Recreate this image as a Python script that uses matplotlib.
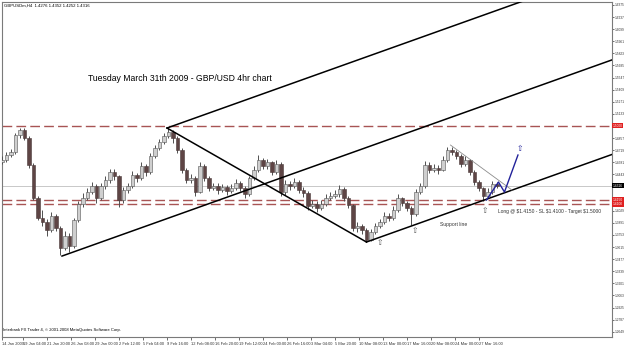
import matplotlib
matplotlib.use('Agg')
import matplotlib.pyplot as plt
import numpy as np

# 4h candles, one entry every 3 bars
closes = [1.4607, 1.4664, 1.4698, 1.4892, 1.4949, 1.4858, 1.4550, 1.4174, 1.3946, 1.3900,
          1.3809, 1.3969, 1.3832, 1.3604, 1.3740, 1.3626, 1.3923, 1.4105, 1.4174, 1.4242,
          1.4311, 1.4174, 1.4311, 1.4379, 1.4470, 1.4425, 1.4151, 1.4265, 1.4311, 1.4436,
          1.4402, 1.4539, 1.4470, 1.4653, 1.4744, 1.4813, 1.4881, 1.4927, 1.4858, 1.4721,
          1.4493, 1.4379, 1.4402, 1.4242, 1.4539, 1.4402, 1.4288, 1.4311, 1.4265, 1.4299,
          1.4254, 1.4288, 1.4345, 1.4288, 1.4219, 1.4402, 1.4493, 1.4607, 1.4539, 1.4584,
          1.4470, 1.4562, 1.4242, 1.4334, 1.4311, 1.4356, 1.4265, 1.4231, 1.4083, 1.4105,
          1.4060, 1.4105, 1.4174, 1.4197, 1.4219, 1.4277, 1.4174, 1.4094, 1.3832, 1.3855,
          1.3809, 1.3695, 1.3786, 1.3855, 1.3900, 1.3969, 1.3946, 1.4037, 1.4174, 1.4117,
          1.4060, 1.3991, 1.4242, 1.4311, 1.4550, 1.4493, 1.4516, 1.4493, 1.4607, 1.4721,
          1.4698, 1.4653, 1.4562, 1.4607, 1.4470, 1.4356, 1.4288, 1.4197, 1.4242, 1.4334,
          1.4311]
highs = [1.4650, 1.4700, 1.4735, 1.4920, 1.4972, 1.4975, 1.4880, 1.4570, 1.4200, 1.4040,
         1.3930, 1.4010, 1.3990, 1.3850, 1.3800, 1.3770, 1.3950, 1.4140, 1.4230, 1.4290,
         1.4360, 1.4330, 1.4340, 1.4420, 1.4510, 1.4500, 1.4440, 1.4300, 1.4350, 1.4480,
         1.4460, 1.4580, 1.4560, 1.4690, 1.4780, 1.4850, 1.4920, 1.4985, 1.4950, 1.4880,
         1.4740, 1.4520, 1.4450, 1.4420, 1.4580, 1.4560, 1.4420, 1.4350, 1.4340, 1.4330,
         1.4320, 1.4330, 1.4390, 1.4370, 1.4310, 1.4430, 1.4540, 1.4660, 1.4630, 1.4620,
         1.4600, 1.4610, 1.4580, 1.4380, 1.4370, 1.4400, 1.4380, 1.4300, 1.4250, 1.4150,
         1.4140, 1.4150, 1.4220, 1.4240, 1.4270, 1.4320, 1.4300, 1.4200, 1.4110, 1.3900,
         1.3880, 1.3830, 1.3820, 1.3890, 1.3940, 1.4010, 1.4000, 1.4080, 1.4220, 1.4190,
         1.4140, 1.4080, 1.4280, 1.4350, 1.4600, 1.4580, 1.4560, 1.4550, 1.4650, 1.4756,
         1.4750, 1.4720, 1.4680, 1.4650, 1.4620, 1.4490, 1.4380, 1.4300, 1.4290, 1.4370,
         1.4360]
lows = [1.4560, 1.4585, 1.4640, 1.4680, 1.4860, 1.4830, 1.4520, 1.4150, 1.3920, 1.3860,
        1.3740, 1.3790, 1.3800, 1.3524, 1.3580, 1.3560, 1.3600, 1.3900, 1.4070, 1.4150,
        1.4220, 1.4120, 1.4150, 1.4280, 1.4350, 1.4380, 1.4071, 1.4120, 1.4230, 1.4290,
        1.4360, 1.4380, 1.4420, 1.4450, 1.4630, 1.4720, 1.4790, 1.4860, 1.4800, 1.4690,
        1.4460, 1.4340, 1.4350, 1.4200, 1.4230, 1.4370, 1.4250, 1.4260, 1.4220, 1.4240,
        1.4210, 1.4230, 1.4270, 1.4250, 1.4170, 1.4200, 1.4380, 1.4470, 1.4500, 1.4510,
        1.4440, 1.4450, 1.4200, 1.4210, 1.4270, 1.4290, 1.4230, 1.4190, 1.4040, 1.4060,
        1.4020, 1.4040, 1.4080, 1.4150, 1.4170, 1.4190, 1.4140, 1.4060, 1.3800, 1.3790,
        1.3760, 1.3672, 1.3680, 1.3760, 1.3830, 1.3880, 1.3910, 1.3920, 1.4010, 1.4080,
        1.4030, 1.3866, 1.3970, 1.4220, 1.4290, 1.4460, 1.4470, 1.4450, 1.4480, 1.4590,
        1.4660, 1.4620, 1.4530, 1.4540, 1.4440, 1.4320, 1.4250, 1.4140, 1.4170, 1.4220,
        1.4290]
first_open = 1.4580
bars_per_candle = 3

# right price scale (labels under the coloured level boxes are hidden, as in MT4)
price_ticks = [1.6375, 1.6237, 1.6099, 1.5961, 1.5823, 1.5685, 1.5547, 1.5409, 1.5271, 1.5133,
               1.4995, 1.4857, 1.4719, 1.4581, 1.4443, 1.4305, 1.4167, 1.4029, 1.3891, 1.3753,
               1.3615, 1.3477, 1.3339, 1.3201, 1.3063, 1.2925, 1.2787, 1.2649]
hidden_ticks = [1.4995, 1.4305, 1.4167]
time_labels = ['14 Jan 2009', '19 Jan 04:00', '21 Jan 20:00', '26 Jan 08:00', '29 Jan 00:00',
               '2 Feb 12:00', '5 Feb 04:00', '9 Feb 16:00', '12 Feb 08:00', '16 Feb 20:00',
               '19 Feb 12:00', '24 Feb 00:00', '26 Feb 16:00', '3 Mar 04:00', '5 Mar 20:00',
               '10 Mar 08:00', '13 Mar 00:00', '17 Mar 16:00', '20 Mar 08:00', '24 Mar 00:00',
               '27 Mar 16:00']

# horizontal levels
target = 1.5000
entry = 1.4150
stop = 1.4100
bid = 1.4316

# pitchfork anchors (bar, price) and slope of the tines (price per bar)
pivot_a = (40, 1.3512)
pivot_b = (110, 1.4972)
pivot_c = (243, 1.3672)
tine_slope = 0.00061
# thin down trendline and blue projected path
down_line_bars = [299, 340]
down_line_prices = [1.4778, 1.4265]
path_bars = [323, 331, 335, 344]
path_prices = [1.4151, 1.4356, 1.4242, 1.4664]
arrow_bars = [252, 275, 322]
arrow_prices = [1.3661, 1.3809, 1.4026]
target_arrow = (345, 1.4733)

plt.rcParams['font.family'] = ['Liberation Sans', 'DejaVu Sans']
fig = plt.figure(figsize=(6.25, 3.5), dpi=100, facecolor='white')
ax = fig.add_axes([2 / 625, 13 / 350, 610 / 625, 335 / 350])
x_max = 406.7
ax.set_xlim(0, x_max)
ax.set_ylim(1.2589, 1.6409)

# candles
x = np.arange(len(closes)) * bars_per_candle
opens = [first_open] + closes[:-1]
ax.vlines(x, lows, highs, color='#505050', linewidth=0.7, zorder=3)
for xi, o, c in zip(x, opens, closes):
    bottom = min(o, c)
    h = max(abs(c - o), 0.0007)
    if c >= o:
        ax.bar(xi, h, bottom=bottom, width=2.2, color='#cfcfcf', edgecolor='#555555', linewidth=0.4, zorder=4)
    else:
        ax.bar(xi, h, bottom=bottom, width=2.2, color='#5e4545', edgecolor='#4a3a3a', linewidth=0.4, zorder=4)

# horizontal lines
ax.axhline(bid, color='#c8c8c8', linewidth=0.7, zorder=1)
for lvl in [target, entry, stop]:
    ax.axhline(lvl, color='#a85454', linewidth=1.0, dashes=(7, 3), zorder=2)

# pitchfork tines (rays to the right edge) and B-C connector
for bx, by in [pivot_a, pivot_b, pivot_c]:
    ax.plot([bx, x_max], [by, by + tine_slope * (x_max - bx)], color='black', linewidth=1.1, zorder=5)
ax.plot([pivot_b[0], pivot_c[0]], [pivot_b[1], pivot_c[1]], color='black', linewidth=1.1, zorder=5)

ax.plot(down_line_bars, down_line_prices, color='#8c8c8c', linewidth=0.6, zorder=5)
ax.plot(path_bars, path_prices, color='#22229a', linewidth=1.0, zorder=6)

for bx, py in zip(arrow_bars, arrow_prices):
    ax.text(bx, py, '\u21e7', family='DejaVu Sans', fontsize=5.5, color='#555555',
            ha='center', va='center', zorder=6)
ax.text(target_arrow[0], target_arrow[1], '\u21e7', family='DejaVu Sans', fontsize=5.5,
        color='#22229a', ha='center', va='center', zorder=6)

# texts
ax.text(0.141, 0.773, 'Tuesday March 31th 2009 - GBP/USD 4hr chart', transform=ax.transAxes,
        fontsize=6.2, color='black', va='center', ha='left')
ax.text(0.718, 0.337, 'Support line', transform=ax.transAxes, fontsize=3.6, color='#333333', va='center')
ax.text(0.813, 0.376, 'Long @ $1.4150 - SL $1.4100 - Target $1.5000', transform=ax.transAxes,
        fontsize=3.5, color='#333333', va='center')
ax.text(0.003, 0.994, 'GBPUSDm,H4  1.4276 1.4352 1.4252 1.4316', transform=ax.transAxes,
        fontsize=3.1, color='black', va='top')
ax.text(0.002, 0.02, 'Interbank FX Trader 4, \u00a9 2001-2008 MetaQuotes Software Corp.',
        transform=ax.transAxes, fontsize=3.0, color='black', va='center')

# axes
ax.yaxis.tick_right()
ax.set_yticks(price_ticks)
ax.set_yticklabels(['' if p in hidden_ticks else '%.4f' % p for p in price_ticks])
tick_pos = [0] + [14 + 16 * k for k in range(len(time_labels) - 1)]
ax.set_xticks(tick_pos)
ax.set_xticklabels(time_labels, ha='left')
ax.tick_params(axis='y', labelsize=2.3, length=1.5, width=0.5, pad=0.5, colors='#333333')
ax.tick_params(axis='x', labelsize=2.9, length=2, width=0.5, pad=1.5, colors='#333333')
for s in ax.spines.values():
    s.set_color('#7a7a7a')
    s.set_linewidth(0.8)

# price labels on the scale
for lvl in [target, entry, stop]:
    ax.text(1.0015, lvl, '%.4f' % lvl, transform=ax.get_yaxis_transform(), fontsize=2.3,
            color='white', va='center', ha='left', clip_on=False, zorder=10,
            bbox=dict(boxstyle='square,pad=0.2', facecolor='#e02020', edgecolor='none'))
ax.text(1.0015, bid, '%.4f' % bid, transform=ax.get_yaxis_transform(), fontsize=2.3,
        color='white', va='center', ha='left', clip_on=False, zorder=10,
        bbox=dict(boxstyle='square,pad=0.2', facecolor='black', edgecolor='none'))

fig.savefig('out.png', dpi=100, facecolor='white')
